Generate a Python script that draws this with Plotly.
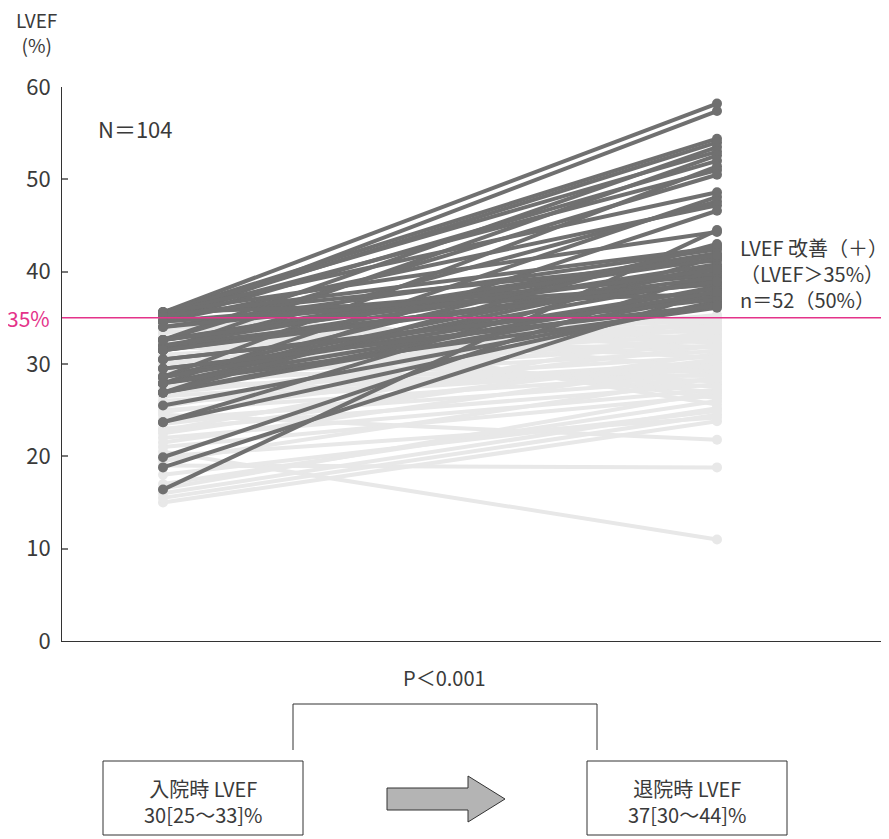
import plotly.graph_objects as go

# ---- data ----
time_points = [0, 1]  # admission, discharge
improved_admission = [35.6, 34.6, 35.6, 35.2, 32.6, 35.6, 31.5, 34.6, 28.6, 35.2,
                      32.6, 35.6, 27.9, 31.5, 34.6, 26.9, 16.4, 35.6, 28.6, 34.0,
                      32.6, 23.7, 35.2, 31.5, 27.9, 19.9, 34.6, 28.6, 32.0, 26.9,
                      18.8, 35.6, 30.5, 23.7, 29.5, 27.9, 35.2, 32.6, 28.6, 31.5,
                      34.6, 26.9, 25.5, 32.0, 34.0, 28.6, 30.5, 32.6, 31.5, 27.9,
                      29.5, 26.9]
improved_discharge = [58.2, 57.4, 54.4, 54.0, 53.5, 53.0, 52.6, 52.0, 51.4, 51.0,
                      50.5, 48.6, 48.1, 47.6, 47.2, 46.6, 44.5, 44.3, 42.8, 42.4,
                      42.0, 41.6, 41.2, 40.8, 40.4, 40.0, 39.6, 39.2, 38.8, 38.4,
                      38.0, 37.6, 37.2, 36.8, 36.4, 36.1, 42.6, 41.4, 40.6, 39.4,
                      38.6, 37.4, 36.6, 41.8, 39.8, 38.2, 37.0, 40.2, 38.9, 37.8,
                      36.3, 43.0]
other_admission = [20.5, 19.0, 24.5, 15.0, 15.5, 16.0, 17.0, 21.0, 22.0, 23.0,
                   24.0, 25.0, 25.8, 26.5, 27.2, 28.0, 28.6, 29.2, 29.8, 30.4,
                   31.0, 31.6, 32.2, 32.8, 33.4, 34.0, 34.6, 35.2, 22.5, 23.5,
                   26.0, 27.6, 29.0, 30.6, 32.0, 33.0, 34.4, 35.5, 18.0, 20.0,
                   21.5, 24.8, 26.8, 28.4, 30.0, 31.8, 33.6, 35.0, 16.5, 19.5,
                   22.8, 25.4]
other_discharge = [11.0, 18.8, 21.8, 23.8, 24.5, 25.2, 26.0, 26.6, 27.2, 27.8,
                   28.4, 29.0, 29.6, 30.2, 30.8, 31.4, 32.0, 32.6, 33.2, 33.8,
                   34.4, 35.0, 34.7, 34.1, 33.5, 32.9, 32.3, 31.7, 31.1, 30.5,
                   29.9, 29.3, 28.7, 28.1, 27.5, 26.9, 26.3, 25.6, 24.9, 24.2,
                   30.0, 32.0, 33.0, 34.0, 35.3, 31.9, 30.7, 29.5, 27.0, 28.5,
                   33.7, 34.8]
y_ticks = [0, 10, 20, 30, 40, 50, 60]
threshold = 35

FONT = "Noto Sans CJK JP"
TXT = "#3a3a3a"
MAGENTA = "#e4338a"
DARK = "#707070"
LIGHT = "#e8e8e8"

# page body has an 8px default margin -> shift everything by 8px
OFF = 8
W, H = 889 - OFF, 839 - OFF
L, R, T, B = 62 - OFF, 0, 87 - OFF, 839 - 641
PW, PH = W - L - R, H - T - B


def px(x):
    return (x - OFF - L) / PW


def py(y):
    return (H - B - (y - OFF)) / PH


def build(adm, dis):
    xs, ys = [], []
    for a, d in zip(adm, dis):
        xs += [time_points[0], time_points[1], None]
        ys += [a, d, None]
    return xs, ys


fig = go.Figure()
xs, ys = build(other_admission, other_discharge)
fig.add_trace(go.Scatter(x=xs, y=ys, mode="lines+markers",
                         line=dict(color=LIGHT, width=4),
                         marker=dict(color=LIGHT, size=10),
                         hoverinfo="skip", showlegend=False))
xs, ys = build(improved_admission, improved_discharge)
fig.add_trace(go.Scatter(x=xs, y=ys, mode="lines+markers",
                         line=dict(color=DARK, width=4),
                         marker=dict(color=DARK, size=10),
                         hoverinfo="skip", showlegend=False))

# x range so that admission sits at px 163 and discharge at px 717
LEFT_PX, RIGHT_PX = 163, 717
unit = RIGHT_PX - LEFT_PX
x0 = -(LEFT_PX - 62) / unit
x1 = 1 + (889 - RIGHT_PX) / unit

fig.update_layout(
    width=W, height=H,
    margin=dict(l=L, r=R, t=T, b=B, autoexpand=False),
    paper_bgcolor="white", plot_bgcolor="white",
    font=dict(family=FONT, color=TXT, size=18),
    xaxis=dict(range=[x0, x1], showgrid=False, zeroline=False, showticklabels=False,
               ticks="", showline=True, linecolor="#333", linewidth=1),
    yaxis=dict(range=[0, 60], tickvals=y_ticks, showgrid=False, zeroline=False,
               ticks="inside", ticklen=6, tickcolor="#777", tickwidth=1.5,
               showline=True, linecolor="#333", linewidth=1,
               tickfont=dict(size=22, color=TXT, family=FONT), ticklabelstandoff=6),
)

fig.add_shape(type="line", xref="paper", yref="y", x0=0, x1=1, y0=threshold, y1=threshold,
              line=dict(color=MAGENTA, width=1.5))


def note(x, y, text, size, color=TXT, xanchor="center", align="center"):
    return dict(x=px(x), y=py(y), xref="paper", yref="paper", text=text,
                xanchor=xanchor, yanchor="middle", align=align, showarrow=False,
                font=dict(size=size, color=color, family=FONT))


ann = [
    note(36, 32, "LVEF<br>(%)", 19),
    note(61, 318, "35%", 21, color=MAGENTA, xanchor="right", align="right"),
    note(96, 128, "N＝104", 22, xanchor="left", align="left"),
    note(738, 273, "LVEF 改善（＋）<br>（LVEF＞35%）<br>n＝52（50%）", 20, xanchor="left", align="left"),
    note(444, 677, "P＜0.001", 20),
    note(203, 801, "入院時 LVEF<br>30[25～33]%", 20),
    note(687, 801, "退院時 LVEF<br>37[30～44]%", 20),
]
# the 35% label is right-anchored at the axis; move it to sit just left of the axis
ann[1]["x"] = px(52)
fig.update_layout(annotations=ann)

# bracket
fig.add_shape(type="path", xref="paper", yref="paper",
              path=f"M {px(293)} {py(750)} L {px(293)} {py(704)} L {px(597)} {py(704)} L {px(597)} {py(750)}",
              line=dict(color="#333", width=1))
# boxes
fig.add_shape(type="rect", xref="paper", yref="paper", x0=px(103), x1=px(303), y0=py(761), y1=py(835),
              line=dict(color="#333", width=1))
fig.add_shape(type="rect", xref="paper", yref="paper", x0=px(587), x1=px(787), y0=py(761), y1=py(835),
              line=dict(color="#333", width=1))
# block arrow
path = (f"M {px(387)} {py(788)} L {px(468)} {py(788)} L {px(468)} {py(776)} "
        f"L {px(505)} {py(799)} L {px(468)} {py(822)} L {px(468)} {py(810)} L {px(387)} {py(810)} Z")
fig.add_shape(type="path", xref="paper", yref="paper", path=path,
              fillcolor="#b4b4b4", line=dict(color="#333", width=1))

fig.write_html("out.html")
